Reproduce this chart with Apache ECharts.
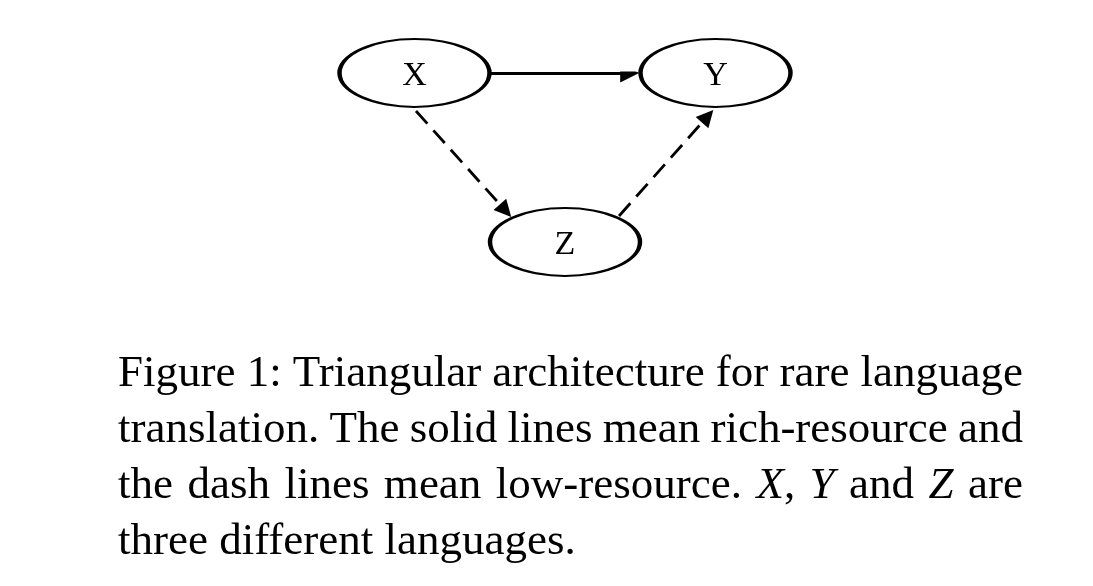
<!DOCTYPE html>
<html>
<head>
<meta charset="utf-8">
<script src="https://cdn.jsdelivr.net/npm/echarts@6/dist/echarts.min.js"></script>
<style>
  html, body { margin: 0; padding: 0; background: #fff; }
  #main { width: 1093px; height: 586px; }
</style>
</head>
<body>
<div id="main"></div>
<script>
 // nodes of the triangle, in diagram units (x across, y up)
 var nodeNames = ['X', 'Y', 'Z'];
 var nodeX = [0, 2, 1];
 var nodeY = [0, 0, -1];

 // edges: start and end (end = arrow head centre)
 var edgeFrom = [[0.502, 0], [0.010, -0.225], [1.359, -0.846]];
 var edgeTo = [[1.430, 0], [0.605, -0.815], [1.948, -0.256]];
 var edgeDashed = [false, true, true];

 // caption, *...* marks math italic
 var captionLines = [
     'Figure 1: Triangular architecture for rare language',
     'translation. The solid lines mean rich-resource and',
     'the dash lines mean low-resource. *X*, *Y* and *Z* are',
     'three different languages.'
 ];

 var serif = '"Liberation Serif", "Times New Roman", serif';
 var capSize = 45;
 var capLeft = 118;
 var capRight = 1023;
 var capBaseline = 383;
 var capLeading = 56;

 var myChart = echarts.init(document.getElementById('main'));

 var ctx = document.createElement('canvas').getContext('2d');
 function measure(t, italic) {
     ctx.font = (italic ? 'italic ' : '') + capSize + 'px ' + serif;
     return ctx.measureText(t).width;
 }

 // split a word into roman / italic pieces
 function pieces(word) {
     var out = [];
     var parts = word.split('*');
     for (var i = 0; i < parts.length; i++) {
         if (parts[i] !== '') out.push({ t: parts[i], italic: i % 2 === 1 });
     }
     return out;
 }

 var captionEls = [];
 captionLines.forEach(function(line, li) {
     var words = line.split(' ').map(pieces);
     var widths = words.map(function(w) {
         return w.reduce(function(s, p) { return s + measure(p.t, p.italic); }, 0);
     });
     var total = widths.reduce(function(a, b) { return a + b; }, 0);
     var last = li === captionLines.length - 1;
     var gap = last ? measure(' ', false) : (capRight - capLeft - total) / (words.length - 1);
     var x = capLeft;
     var y = capBaseline + li * capLeading - 9;
     words.forEach(function(w, wi) {
         var px = x;
         w.forEach(function(p) {
             captionEls.push({
                 type: 'text',
                 x: px,
                 y: y,
                 style: {
                     text: p.t,
                     fontSize: capSize,
                     fontFamily: serif,
                     fontStyle: p.italic ? 'italic' : 'normal',
                     fill: '#000',
                     textAlign: 'left',
                     textVerticalAlign: 'middle'
                 }
             });
             px += measure(p.t, p.italic);
         });
         x += widths[wi] + gap;
     });
 });

 var nodeData = nodeNames.map(function(n, i) {
     return { name: n, value: [nodeX[i], nodeY[i]] };
 });

 function edgeSeries(dashed) {
     var data = [];
     for (var i = 0; i < edgeFrom.length; i++) {
         if (edgeDashed[i] === dashed) data.push({ coords: [edgeFrom[i], edgeTo[i]] });
     }
     return {
         type: 'lines',
         coordinateSystem: 'cartesian2d',
         symbol: ['none', 'triangle'],
         symbolSize: [0, dashed ? 17 : 19],
         lineStyle: {
             color: '#000',
             width: 2.8,
             opacity: 1,
             type: dashed ? [17, 9] : 'solid'
         },
         silent: true,
         z: 1,
         data: data
     };
 }

 var option = {
     animation: false,
     backgroundColor: '#fff',
     grid: { left: 414.5, top: 73, width: 301, height: 169 },
     xAxis: { type: 'value', min: 0, max: 2, show: false },
     yAxis: { type: 'value', min: -1, max: 0, show: false },
     graphic: captionEls,
     series: [
         edgeSeries(false),
         edgeSeries(true),
         {
             type: 'scatter',
             symbol: 'path://M0,50 A50,50 0 1,1 100,50 A50,50 0 1,1 0,50 Z',
             symbolSize: [150, 68],
             clip: false,
             silent: true,
             z: 2,
             itemStyle: {
                 color: '#fff',
                 borderColor: '#000',
                 borderWidth: 3,
                 opacity: 1
             },
             label: {
                 show: true,
                 position: 'inside',
                 offset: [0, 3],
                 formatter: '{b}',
                 color: '#000',
                 fontSize: 34,
                 fontFamily: serif
             },
             data: nodeData
         }
     ]
 };
 myChart.setOption(option);
</script>
</body>
</html>
